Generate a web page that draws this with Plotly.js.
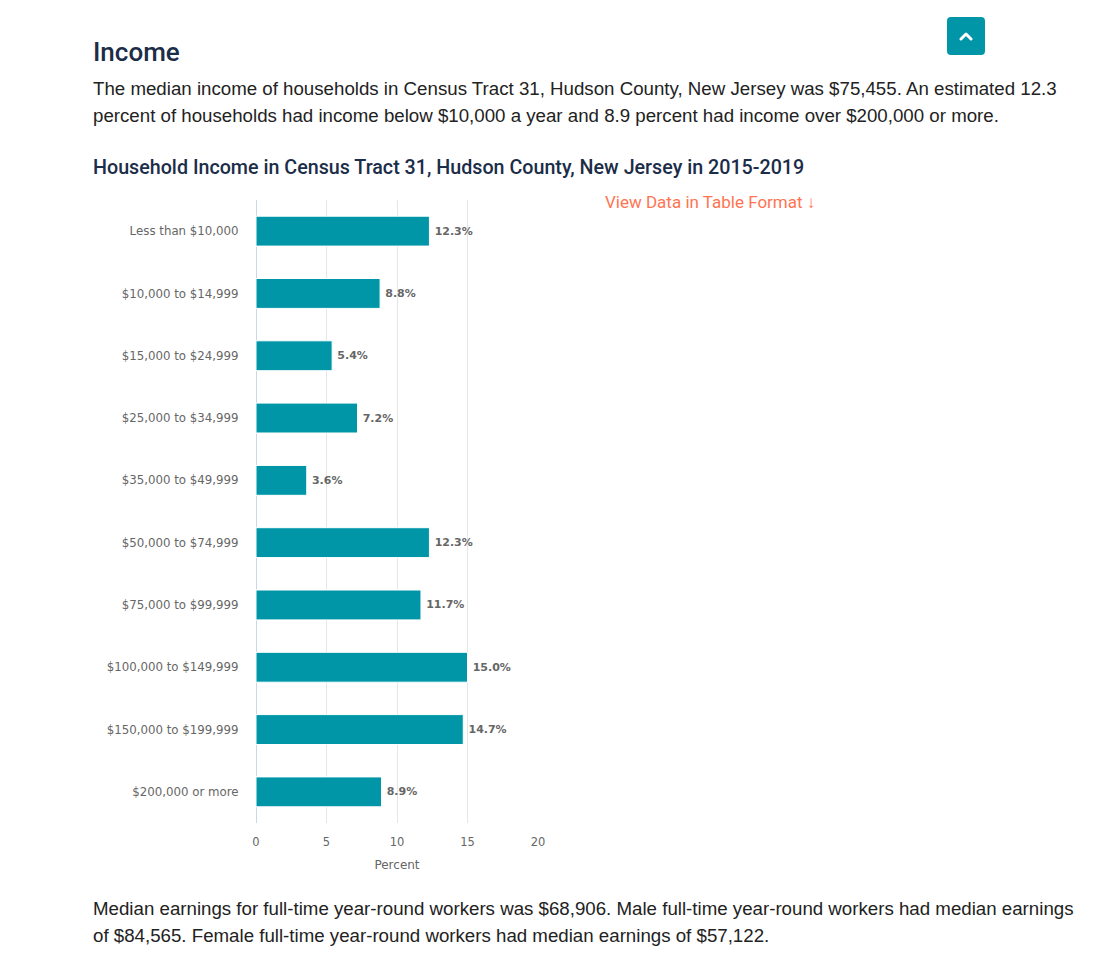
<!DOCTYPE html>
<html>
<head>
<meta charset="utf-8">
<script src="https://cdn.plot.ly/plotly-3.0.1.min.js"></script>
<style>
  html, body { margin:0; padding:0; background:#fff; width:1118px; height:968px; overflow:hidden; }
  #chart { position:absolute; left:0; top:0; width:1118px; height:968px; }
  .txt { position:absolute; z-index:5; }
  #h2 { left:93px; top:37px; font-family:Roboto, sans-serif; font-weight:500; font-size:26px; color:#1b2d48; }
  .para { left:93px; font-family:"Liberation Sans", Arial, sans-serif; font-size:18.7px; line-height:27px; color:#222; white-space:nowrap; }
  #p1 { top:75px; }
  #p2 { top:895px; }
  #ctitle { left:93px; top:156px; font-family:Roboto, sans-serif; font-weight:500; font-size:19.7px; color:#1b2d48; white-space:nowrap; }
  #viewdata { left:605px; top:192px; font-family:Roboto, sans-serif; font-size:17px; color:#ff7452; white-space:nowrap; }
  #btn { left:947px; top:17px; width:38px; height:38px; background:#0096a8; border-radius:4px; }
  #btn svg { position:absolute; left:12px; top:13px; }
</style>
</head>
<body>
<div id="chart"></div>
<div class="txt" id="btn"><svg width="14" height="12" viewBox="0 0 14 12"><polyline points="2,9 7,4 12,9" fill="none" stroke="#fff" stroke-width="3" stroke-linecap="round" stroke-linejoin="round"/></svg></div>
<div class="txt" id="h2">Income</div>
<div class="txt para" id="p1">The median income of households in Census Tract 31, Hudson County, New Jersey was $75,455. An estimated 12.3<br>percent of households had income below $10,000 a year and 8.9 percent had income over $200,000 or more.</div>
<div class="txt" id="ctitle">Household Income in Census Tract 31, Hudson County, New Jersey in 2015-2019</div>
<div class="txt" id="viewdata">View Data in Table Format ↓</div>
<div class="txt para" id="p2">Median earnings for full-time year-round workers was $68,906. Male full-time year-round workers had median earnings<br>of $84,565. Female full-time year-round workers had median earnings of $57,122.</div>
<script>
const categories = [
  "Less than $10,000",
  "$10,000 to $14,999",
  "$15,000 to $24,999",
  "$25,000 to $34,999",
  "$35,000 to $49,999",
  "$50,000 to $74,999",
  "$75,000 to $99,999",
  "$100,000 to $149,999",
  "$150,000 to $199,999",
  "$200,000 or more"
];
const percents = [12.3, 8.8, 5.4, 7.2, 3.6, 12.3, 11.7, 15.0, 14.7, 8.9];
const xTicks = [0, 5, 10, 15, 20];
const xTitle = "Percent";

const trace = {
  type: 'bar',
  orientation: 'h',
  y: categories,
  x: percents,
  width: 0.48,
  marker: { color: '#0096a8', line: { color: '#ffffff', width: 1 } },
  text: percents.map(v => '\u2009' + v.toFixed(1) + '%'),
  textposition: 'outside',
  textfont: { family: 'DejaVu Sans', size: 11, color: '#666666', weight: 'bold' },
  cliponaxis: false,
  hoverinfo: 'none'
};

const layout = {
  width: 1118, height: 968,
  margin: { l: 256, r: 580, t: 200, b: 145, pad: 0 },
  paper_bgcolor: 'rgba(0,0,0,0)',
  plot_bgcolor: 'rgba(0,0,0,0)',
  showlegend: false,
  font: { family: 'DejaVu Sans', size: 11, color: '#666666' },
  xaxis: {
    range: [0, 20],
    tickvals: xTicks,
    ticktext: xTicks.map(String),
    showgrid: true, gridcolor: '#e6e6e6', gridwidth: 1,
    zeroline: true, zerolinecolor: '#ccd6eb', zerolinewidth: 1,
    ticks: '', ticklen: 0,
    ticklabelstandoff: 10,
    tickfont: { family: 'DejaVu Sans', size: 11.5, color: '#666666' },
    title: { text: xTitle, font: { family: 'DejaVu Sans', size: 12, color: '#666666' }, standoff: 13 },
    fixedrange: true
  },
  yaxis: {
    autorange: 'reversed',
    categoryorder: 'array', categoryarray: categories,
    showgrid: false, zeroline: false, showline: false,
    ticks: 'outside', ticklen: 14, tickcolor: 'rgba(0,0,0,0)',
    tickfont: { family: 'DejaVu Sans', size: 11.8, color: '#666666' },
    fixedrange: true
  },
  bargap: 0.52
};

Plotly.newPlot('chart', [trace], layout, { displayModeBar: false, staticPlot: true });
</script>
</body>
</html>
